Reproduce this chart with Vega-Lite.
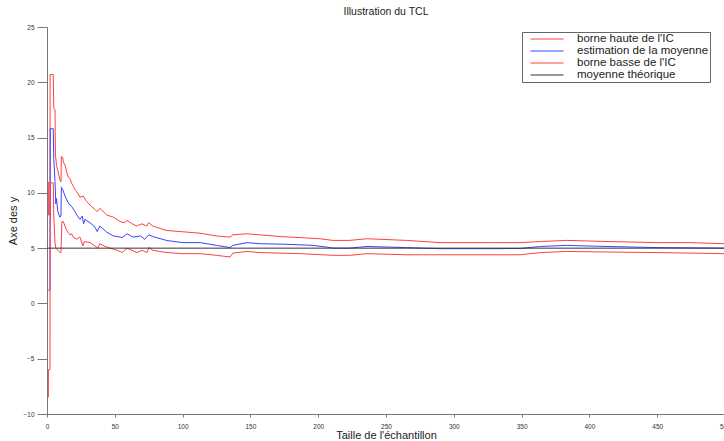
{
  "$schema": "https://vega.github.io/schema/vega-lite/v6.json",
  "autosize": {"type": "none"},
  "width": 678,
  "height": 387,
  "padding": {"left": 47, "top": 27, "right": 0, "bottom": 27},
  "background": "white",
  "title": {"text": "Illustration du TCL", "fontSize": 10.5, "fontWeight": "normal", "font": "Liberation Sans", "color": "#222", "offset": 7, "anchor": "middle"},
  "config": {
    "view": {"stroke": null},
    "axis": {"grid": false, "domainColor": "#777", "tickColor": "#777", "labelColor": "#333", "labelFont": "Liberation Sans", "labelFontSize": 6.5, "titleFont": "Liberation Sans", "titleFontSize": 11, "titleFontWeight": "normal", "titleColor": "#222"},
    "legend": {"orient": "none", "legendX": 475, "legendY": 5, "strokeColor": "#666", "fillColor": "white", "padding": 1, "symbolOffset": 7, "symbolType": "stroke", "symbolSize": 1089, "symbolStrokeWidth": 1, "labelFont": "Liberation Sans", "labelFontSize": 11.5, "labelColor": "#222", "labelOffset": 13, "rowPadding": 0, "clipHeight": 12, "labelLimit": 300}
  },
  "data": {"values": [
    {"serie": "borne haute de l'IC", "n": 1, "y": 11.0},
    {"serie": "borne haute de l'IC", "n": 1.05, "y": 8.0},
    {"serie": "borne haute de l'IC", "n": 2.2, "y": 8.0},
    {"serie": "borne haute de l'IC", "n": 2.3, "y": 20.7},
    {"serie": "borne haute de l'IC", "n": 4.6, "y": 20.7},
    {"serie": "borne haute de l'IC", "n": 5, "y": 17.7},
    {"serie": "borne haute de l'IC", "n": 5.9, "y": 17.5},
    {"serie": "borne haute de l'IC", "n": 6.2, "y": 13.5},
    {"serie": "borne haute de l'IC", "n": 7, "y": 12.5},
    {"serie": "borne haute de l'IC", "n": 8, "y": 12.0},
    {"serie": "borne haute de l'IC", "n": 9.5, "y": 11.2},
    {"serie": "borne haute de l'IC", "n": 10.3, "y": 11.0},
    {"serie": "borne haute de l'IC", "n": 10.6, "y": 13.3},
    {"serie": "borne haute de l'IC", "n": 11.6, "y": 13.2},
    {"serie": "borne haute de l'IC", "n": 12, "y": 12.8},
    {"serie": "borne haute de l'IC", "n": 13.3, "y": 12.5},
    {"serie": "borne haute de l'IC", "n": 14.5, "y": 11.9},
    {"serie": "borne haute de l'IC", "n": 15.7, "y": 11.4},
    {"serie": "borne haute de l'IC", "n": 17, "y": 11.3},
    {"serie": "borne haute de l'IC", "n": 18, "y": 10.9},
    {"serie": "borne haute de l'IC", "n": 19.4, "y": 10.6},
    {"serie": "borne haute de l'IC", "n": 20.6, "y": 10.3},
    {"serie": "borne haute de l'IC", "n": 22, "y": 10.1},
    {"serie": "borne haute de l'IC", "n": 24.3, "y": 9.6},
    {"serie": "borne haute de l'IC", "n": 26.8, "y": 9.7},
    {"serie": "borne haute de l'IC", "n": 29.3, "y": 9.2},
    {"serie": "borne haute de l'IC", "n": 31.7, "y": 8.9},
    {"serie": "borne haute de l'IC", "n": 35.4, "y": 8.5},
    {"serie": "borne haute de l'IC", "n": 37, "y": 8.3},
    {"serie": "borne haute de l'IC", "n": 39, "y": 8.6},
    {"serie": "borne haute de l'IC", "n": 44, "y": 8.0},
    {"serie": "borne haute de l'IC", "n": 49, "y": 7.8},
    {"serie": "borne haute de l'IC", "n": 54, "y": 7.4},
    {"serie": "borne haute de l'IC", "n": 57, "y": 7.3},
    {"serie": "borne haute de l'IC", "n": 59, "y": 7.5},
    {"serie": "borne haute de l'IC", "n": 63, "y": 7.2},
    {"serie": "borne haute de l'IC", "n": 66, "y": 7.0},
    {"serie": "borne haute de l'IC", "n": 70, "y": 7.2},
    {"serie": "borne haute de l'IC", "n": 73.5, "y": 7.0},
    {"serie": "borne haute de l'IC", "n": 75, "y": 7.3},
    {"serie": "borne haute de l'IC", "n": 78, "y": 7.0},
    {"serie": "borne haute de l'IC", "n": 88, "y": 6.6},
    {"serie": "borne haute de l'IC", "n": 98, "y": 6.5},
    {"serie": "borne haute de l'IC", "n": 113, "y": 6.35},
    {"serie": "borne haute de l'IC", "n": 125, "y": 6.1},
    {"serie": "borne haute de l'IC", "n": 135, "y": 6.0},
    {"serie": "borne haute de l'IC", "n": 137, "y": 6.2},
    {"serie": "borne haute de l'IC", "n": 147, "y": 6.3},
    {"serie": "borne haute de l'IC", "n": 157, "y": 6.2},
    {"serie": "borne haute de l'IC", "n": 172, "y": 6.05},
    {"serie": "borne haute de l'IC", "n": 187, "y": 5.95},
    {"serie": "borne haute de l'IC", "n": 201, "y": 5.85},
    {"serie": "borne haute de l'IC", "n": 211, "y": 5.7},
    {"serie": "borne haute de l'IC", "n": 223, "y": 5.7},
    {"serie": "borne haute de l'IC", "n": 236, "y": 5.85},
    {"serie": "borne haute de l'IC", "n": 265, "y": 5.7},
    {"serie": "borne haute de l'IC", "n": 290, "y": 5.5},
    {"serie": "borne haute de l'IC", "n": 327, "y": 5.5},
    {"serie": "borne haute de l'IC", "n": 349, "y": 5.5},
    {"serie": "borne haute de l'IC", "n": 364, "y": 5.6},
    {"serie": "borne haute de l'IC", "n": 383, "y": 5.7},
    {"serie": "borne haute de l'IC", "n": 413, "y": 5.6},
    {"serie": "borne haute de l'IC", "n": 450, "y": 5.5},
    {"serie": "borne haute de l'IC", "n": 474, "y": 5.5},
    {"serie": "borne haute de l'IC", "n": 500, "y": 5.4},

    {"serie": "estimation de la moyenne", "n": 1, "y": 1.2},
    {"serie": "estimation de la moyenne", "n": 2.2, "y": 1.2},
    {"serie": "estimation de la moyenne", "n": 2.4, "y": 15.8},
    {"serie": "estimation de la moyenne", "n": 4.6, "y": 15.8},
    {"serie": "estimation de la moyenne", "n": 5, "y": 13.1},
    {"serie": "estimation de la moyenne", "n": 5.9, "y": 11.0},
    {"serie": "estimation de la moyenne", "n": 6.5, "y": 9.0},
    {"serie": "estimation de la moyenne", "n": 7, "y": 9.5},
    {"serie": "estimation de la moyenne", "n": 8, "y": 8.3},
    {"serie": "estimation de la moyenne", "n": 9.5, "y": 7.8},
    {"serie": "estimation de la moyenne", "n": 10.3, "y": 7.9},
    {"serie": "estimation de la moyenne", "n": 10.6, "y": 10.5},
    {"serie": "estimation de la moyenne", "n": 11.6, "y": 10.3},
    {"serie": "estimation de la moyenne", "n": 13.3, "y": 9.7},
    {"serie": "estimation de la moyenne", "n": 15.7, "y": 9.1},
    {"serie": "estimation de la moyenne", "n": 17, "y": 8.9},
    {"serie": "estimation de la moyenne", "n": 18, "y": 8.8},
    {"serie": "estimation de la moyenne", "n": 20.6, "y": 8.3},
    {"serie": "estimation de la moyenne", "n": 22, "y": 8.0},
    {"serie": "estimation de la moyenne", "n": 24.3, "y": 7.6},
    {"serie": "estimation de la moyenne", "n": 26, "y": 7.9},
    {"serie": "estimation de la moyenne", "n": 27, "y": 7.2},
    {"serie": "estimation de la moyenne", "n": 28, "y": 7.6},
    {"serie": "estimation de la moyenne", "n": 31.7, "y": 7.3},
    {"serie": "estimation de la moyenne", "n": 35.4, "y": 6.9},
    {"serie": "estimation de la moyenne", "n": 37, "y": 6.5},
    {"serie": "estimation de la moyenne", "n": 39, "y": 7.0},
    {"serie": "estimation de la moyenne", "n": 44, "y": 6.45},
    {"serie": "estimation de la moyenne", "n": 49, "y": 6.1},
    {"serie": "estimation de la moyenne", "n": 54, "y": 6.0},
    {"serie": "estimation de la moyenne", "n": 55.5, "y": 5.95},
    {"serie": "estimation de la moyenne", "n": 59, "y": 6.3},
    {"serie": "estimation de la moyenne", "n": 63.4, "y": 6.0},
    {"serie": "estimation de la moyenne", "n": 69, "y": 6.1},
    {"serie": "estimation de la moyenne", "n": 72, "y": 5.8},
    {"serie": "estimation de la moyenne", "n": 75, "y": 6.2},
    {"serie": "estimation de la moyenne", "n": 78, "y": 6.05},
    {"serie": "estimation de la moyenne", "n": 88, "y": 5.7},
    {"serie": "estimation de la moyenne", "n": 100, "y": 5.5},
    {"serie": "estimation de la moyenne", "n": 113, "y": 5.5},
    {"serie": "estimation de la moyenne", "n": 125, "y": 5.25},
    {"serie": "estimation de la moyenne", "n": 135, "y": 5.05},
    {"serie": "estimation de la moyenne", "n": 137, "y": 5.25},
    {"serie": "estimation de la moyenne", "n": 147.5, "y": 5.5},
    {"serie": "estimation de la moyenne", "n": 157, "y": 5.4},
    {"serie": "estimation de la moyenne", "n": 177, "y": 5.35},
    {"serie": "estimation de la moyenne", "n": 196, "y": 5.25},
    {"serie": "estimation de la moyenne", "n": 206, "y": 5.1},
    {"serie": "estimation de la moyenne", "n": 211, "y": 5.0},
    {"serie": "estimation de la moyenne", "n": 223, "y": 5.0},
    {"serie": "estimation de la moyenne", "n": 236, "y": 5.15},
    {"serie": "estimation de la moyenne", "n": 265, "y": 5.05},
    {"serie": "estimation de la moyenne", "n": 290, "y": 4.95},
    {"serie": "estimation de la moyenne", "n": 327, "y": 4.95},
    {"serie": "estimation de la moyenne", "n": 349, "y": 4.97},
    {"serie": "estimation de la moyenne", "n": 364, "y": 5.15},
    {"serie": "estimation de la moyenne", "n": 383, "y": 5.25},
    {"serie": "estimation de la moyenne", "n": 413, "y": 5.15},
    {"serie": "estimation de la moyenne", "n": 450, "y": 5.05},
    {"serie": "estimation de la moyenne", "n": 500, "y": 5.0},

    {"serie": "borne basse de l'IC", "n": 1, "y": -8.5},
    {"serie": "borne basse de l'IC", "n": 1.05, "y": -6.0},
    {"serie": "borne basse de l'IC", "n": 2.2, "y": -6.0},
    {"serie": "borne basse de l'IC", "n": 2.35, "y": 10.9},
    {"serie": "borne basse de l'IC", "n": 4.6, "y": 10.9},
    {"serie": "borne basse de l'IC", "n": 5, "y": 8.0},
    {"serie": "borne basse de l'IC", "n": 5.9, "y": 5.5},
    {"serie": "borne basse de l'IC", "n": 6.5, "y": 5.0},
    {"serie": "borne basse de l'IC", "n": 8, "y": 4.8},
    {"serie": "borne basse de l'IC", "n": 9.5, "y": 4.6},
    {"serie": "borne basse de l'IC", "n": 10.3, "y": 4.6},
    {"serie": "borne basse de l'IC", "n": 11, "y": 7.4},
    {"serie": "borne basse de l'IC", "n": 12, "y": 7.4},
    {"serie": "borne basse de l'IC", "n": 13.3, "y": 7.0},
    {"serie": "borne basse de l'IC", "n": 14.5, "y": 6.6},
    {"serie": "borne basse de l'IC", "n": 15.7, "y": 6.4},
    {"serie": "borne basse de l'IC", "n": 17, "y": 6.2},
    {"serie": "borne basse de l'IC", "n": 18, "y": 6.3},
    {"serie": "borne basse de l'IC", "n": 19.4, "y": 6.0},
    {"serie": "borne basse de l'IC", "n": 21.9, "y": 5.8},
    {"serie": "borne basse de l'IC", "n": 24.3, "y": 6.0},
    {"serie": "borne basse de l'IC", "n": 26.5, "y": 5.2},
    {"serie": "borne basse de l'IC", "n": 27.5, "y": 5.6},
    {"serie": "borne basse de l'IC", "n": 31.7, "y": 5.5},
    {"serie": "borne basse de l'IC", "n": 35.4, "y": 5.2},
    {"serie": "borne basse de l'IC", "n": 37.5, "y": 5.0},
    {"serie": "borne basse de l'IC", "n": 39, "y": 5.4},
    {"serie": "borne basse de l'IC", "n": 44, "y": 5.1},
    {"serie": "borne basse de l'IC", "n": 49, "y": 4.9},
    {"serie": "borne basse de l'IC", "n": 54, "y": 4.7},
    {"serie": "borne basse de l'IC", "n": 55.3, "y": 4.6},
    {"serie": "borne basse de l'IC", "n": 59, "y": 5.0},
    {"serie": "borne basse de l'IC", "n": 66.4, "y": 4.6},
    {"serie": "borne basse de l'IC", "n": 70, "y": 4.8},
    {"serie": "borne basse de l'IC", "n": 73.7, "y": 4.6},
    {"serie": "borne basse de l'IC", "n": 75.2, "y": 5.05},
    {"serie": "borne basse de l'IC", "n": 78.2, "y": 4.8},
    {"serie": "borne basse de l'IC", "n": 88.5, "y": 4.6},
    {"serie": "borne basse de l'IC", "n": 100, "y": 4.5},
    {"serie": "borne basse de l'IC", "n": 113, "y": 4.5},
    {"serie": "borne basse de l'IC", "n": 125, "y": 4.35},
    {"serie": "borne basse de l'IC", "n": 135, "y": 4.2},
    {"serie": "borne basse de l'IC", "n": 137, "y": 4.55},
    {"serie": "borne basse de l'IC", "n": 147.5, "y": 4.7},
    {"serie": "borne basse de l'IC", "n": 157, "y": 4.6},
    {"serie": "borne basse de l'IC", "n": 187, "y": 4.5},
    {"serie": "borne basse de l'IC", "n": 211, "y": 4.35},
    {"serie": "borne basse de l'IC", "n": 223, "y": 4.35},
    {"serie": "borne basse de l'IC", "n": 236, "y": 4.5},
    {"serie": "borne basse de l'IC", "n": 265, "y": 4.4},
    {"serie": "borne basse de l'IC", "n": 290, "y": 4.4},
    {"serie": "borne basse de l'IC", "n": 327, "y": 4.4},
    {"serie": "borne basse de l'IC", "n": 349, "y": 4.4},
    {"serie": "borne basse de l'IC", "n": 364, "y": 4.6},
    {"serie": "borne basse de l'IC", "n": 383, "y": 4.7},
    {"serie": "borne basse de l'IC", "n": 413, "y": 4.65},
    {"serie": "borne basse de l'IC", "n": 450, "y": 4.6},
    {"serie": "borne basse de l'IC", "n": 500, "y": 4.5},

    {"serie": "moyenne théorique", "n": 0, "y": 5},
    {"serie": "moyenne théorique", "n": 500, "y": 5}
  ]},
  "mark": {"type": "line", "strokeWidth": 1, "clip": true},
  "encoding": {
    "x": {"field": "n", "type": "quantitative", "scale": {"domain": [0, 500], "nice": false, "zero": false},
      "axis": {"values": [0, 50, 100, 150, 200, 250, 300, 350, 400, 450, 500], "format": "d", "labelFlush": false, "tickSize": 3, "labelPadding": 6, "title": "Taille de l'échantillon", "titlePadding": 0}},
    "y": {"field": "y", "type": "quantitative", "scale": {"domain": [-10, 25], "nice": false, "zero": false},
      "axis": {"values": [-10, -5, 0, 5, 10, 15, 20, 25], "tickSize": 10, "labelPadding": 3, "title": "Axe des y", "titlePadding": 4}},
    "color": {"field": "serie", "type": "nominal", "sort": null,
      "scale": {"domain": ["borne haute de l'IC", "estimation de la moyenne", "borne basse de l'IC", "moyenne théorique"], "range": ["#ff4040", "#4040ff", "#ff4040", "#333333"]},
      "legend": {"title": null}}
  }
}
